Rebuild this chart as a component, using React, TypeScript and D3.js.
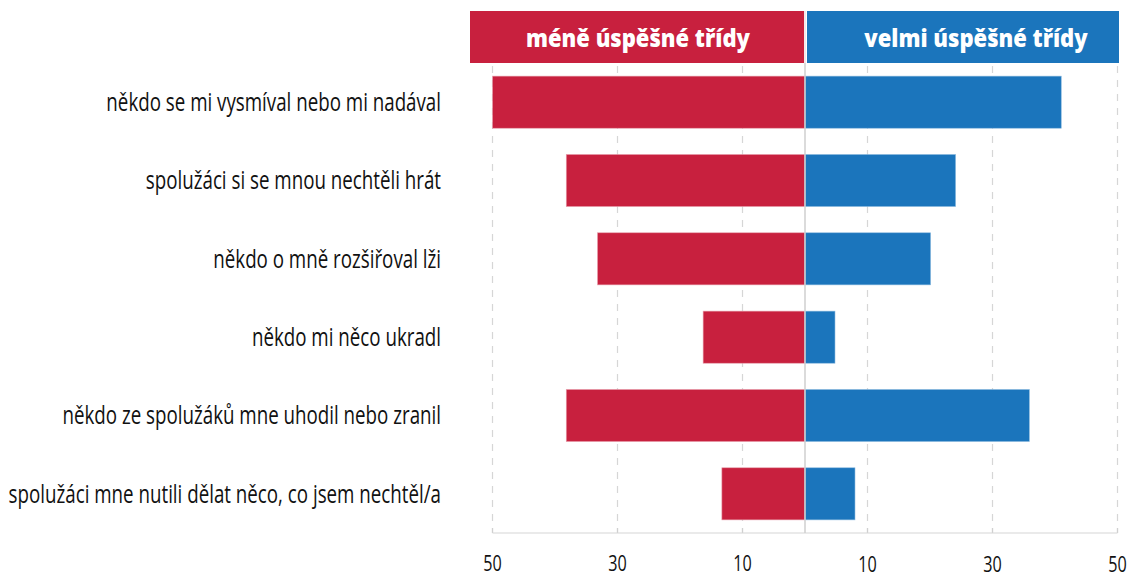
import React from "react";
import * as d3 from "d3";

const categories = [
  "někdo se mi vysmíval nebo mi nadával",
  "spolužáci si se mnou nechtěli hrát",
  "někdo o mně rozšiřoval lži",
  "někdo mi něco ukradl",
  "někdo ze spolužáků mne uhodil nebo zranil",
  "spolužáci mne nutili dělat něco, co jsem nechtěl/a",
];
const lessSuccessful = [50, 38.2, 33.2, 16.3, 38.2, 13.3];
const verySuccessful = [41, 24.1, 20.1, 4.8, 35.9, 8];
const tickValues = [10, 30, 50];
const headerLeft = "méně úspěšné třídy";
const headerRight = "velmi úspěšné třídy";

const W = 1127;
const H = 579;
const CX = 805;
const RED = "#C8203E";
const BLUE = "#1B75BC";
const FONT = "'Open Sans', 'DejaVu Sans', sans-serif";

function CText(props: {
  x: number;
  y: number;
  sx: number;
  anchor: "start" | "middle" | "end";
  size: number;
  fill: string;
  weight?: string;
  children: React.ReactNode;
}) {
  return (
    <text
      transform={`translate(${props.x},${props.y}) scale(${props.sx},1)`}
      dy="0.35em"
      textAnchor={props.anchor}
      fontSize={props.size}
      fill={props.fill}
      fontWeight={props.weight || "normal"}
    >
      {props.children}
    </text>
  );
}

export default function App() {
  const xL = d3.scaleLinear().domain([0, 50]).range([CX, 492.5]);
  const xR = d3.scaleLinear().domain([0, 50]).range([CX, 1117.5]);
  const y = d3
    .scaleBand<string>()
    .domain(categories)
    .range([63, 533])
    .paddingInner(0.335)
    .paddingOuter(0.1675);
  const axisY = 533;
  const gridTop = 66;

  return (
    <div style={{ position: "absolute", left: 0, top: 0 }}>
      <svg width={W} height={H} style={{ display: "block", fontFamily: FONT }}>
        <rect x={0} y={0} width={W} height={H} fill="#fff" />
        {/* gridlines */}
        {tickValues.map((t) => (
          <g key={t}>
            <line x1={xL(t)} x2={xL(t)} y1={gridTop} y2={axisY} stroke="#d6d6d6" strokeWidth={1.2} strokeDasharray="7,7" />
            <line x1={xR(t)} x2={xR(t)} y1={gridTop} y2={axisY} stroke="#d6d6d6" strokeWidth={1.2} strokeDasharray="7,7" />
            <line x1={xL(t)} x2={xL(t)} y1={axisY - 5} y2={axisY} stroke="#d0d0d0" strokeWidth={1.2} />
            <line x1={xR(t)} x2={xR(t)} y1={axisY - 5} y2={axisY} stroke="#d0d0d0" strokeWidth={1.2} />
          </g>
        ))}
        <line x1={xL(50)} x2={xR(50)} y1={axisY} y2={axisY} stroke="#d6d6d6" strokeWidth={1.2} />
        {/* headers */}
        <rect x={470} y={11} width={CX + 1 - 470} height={52} fill={RED} />
        <rect x={CX + 2} y={11} width={1119 - CX - 2} height={52} fill={BLUE} />
        <CText x={638} y={38.5} sx={0.88} anchor="middle" size={25} fill="#fff" weight="800">
          {headerLeft}
        </CText>
        <CText x={976} y={38.5} sx={0.88} anchor="middle" size={25} fill="#fff" weight="800">
          {headerRight}
        </CText>
        {/* bars */}
        {categories.map((c, i) => (
          <g key={c}>
            <rect
              x={xL(lessSuccessful[i])}
              y={y(c)}
              width={CX - xL(lessSuccessful[i])}
              height={y.bandwidth()}
              fill={RED}
              stroke="#e8a0ad"
              strokeWidth={0.6}
            />
            <rect
              x={CX}
              y={y(c)}
              width={xR(verySuccessful[i]) - CX}
              height={y.bandwidth()}
              fill={BLUE}
              stroke="#8fbce0"
              strokeWidth={0.6}
            />
            <CText x={441} y={(y(c) as number) + y.bandwidth() / 2} sx={0.75} anchor="end" size={25} fill="#111">
              {c}
            </CText>
          </g>
        ))}
        {/* center line */}
        <line x1={CX} x2={CX} y1={11} y2={axisY} stroke="#cfcfcf" strokeWidth={1.5} />
        <line x1={CX} x2={CX} y1={11} y2={63} stroke="#fff" strokeWidth={1.5} />
        {/* tick labels */}
        {tickValues.map((t) => (
          <g key={"l" + t}>
            <CText x={xL(t)} y={563} sx={0.72} anchor="middle" size={22.5} fill="#111">
              {t}
            </CText>
            <CText x={xR(t)} y={564.5} sx={0.72} anchor="middle" size={22.5} fill="#111">
              {t}
            </CText>
          </g>
        ))}
      </svg>
    </div>
  );
}
